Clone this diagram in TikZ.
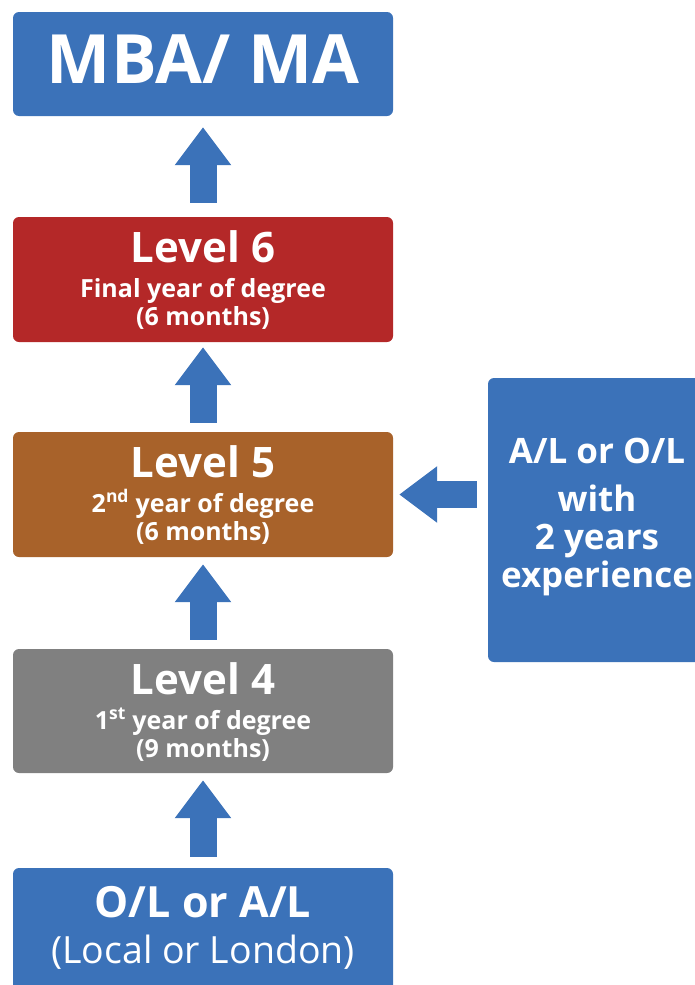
\documentclass[tikz,border=0pt]{standalone}
\usepackage{fontspec}
\setmainfont{Open Sans}
\usetikzlibrary{arrows.meta}
\definecolor{cblue}{RGB}{59,114,185}
\definecolor{cred}{RGB}{180,40,40}
\definecolor{cbrown}{RGB}{168,98,42}
\definecolor{cgray}{RGB}{128,128,128}
\tikzset{
  box/.style={rounded corners=6pt, inner sep=0pt, draw=none, text=white},
  txt/.style={anchor=base, inner sep=0pt, text=white},
  big/.style={font=\bfseries\fontsize{42}{46}\selectfont},
  small/.style={font=\bfseries\fontsize{25}{28}\selectfont},
  sidetxt/.style={font=\bfseries\fontsize{35}{40}\selectfont},
  uparrow/.style={draw=cblue, line width=27pt, -{Triangle[length=38pt,width=54pt]}},
}
\begin{document}
\begin{tikzpicture}[x=1pt,y=-1pt]
\useasboundingbox (0,0) rectangle (695,985);
\clip (0,0) rectangle (695,985);
% boxes
\node[box, fill=cblue, minimum width=380pt, minimum height=104pt] (mba) at (203,64) {};
\node[box, fill=cred, minimum width=380pt, minimum height=125pt] (l6) at (203,279.5) {};
\node[box, fill=cbrown, minimum width=380pt, minimum height=125pt] (l5) at (203,494.5) {};
\node[box, fill=cgray, minimum width=380pt, minimum height=124pt] (l4) at (203,711) {};
\node[box, fill=cblue, minimum width=380pt, minimum height=140pt] (ol) at (203,938) {};
\node[box, fill=cblue, minimum width=232pt, minimum height=284pt] (side) at (604,520) {};
% texts
\node[txt, font=\bfseries\fontsize{68}{74}\selectfont] (tmba) at (203,83) {MBA/ MA};
\node[txt, big] (t6a) at (203,262) {Level 6};
\node[txt, small] (t6b) at (203,297) {Final year of degree};
\node[txt, small] (t6c) at (203,325) {(6 months)};
\node[txt, big] (t5a) at (203,477) {Level 5};
\node[txt, small] (t5b) at (203,512) {2\textsuperscript{nd} year of degree};
\node[txt, small] (t5c) at (203,540) {(6 months)};
\node[txt, big] (t4a) at (203,694) {Level 4};
\node[txt, small] (t4b) at (203,729) {1\textsuperscript{st} year of degree};
\node[txt, small] (t4c) at (203,757) {(9 months)};
\node[txt, font=\bfseries\fontsize{43}{48}\selectfont] (tola) at (203,917) {O/L or A/L};
\node[txt, font=\fontsize{37.5}{42}\selectfont] (tolb) at (203,963) {(Local or London)};
\node[txt, sidetxt] (ts1) at (597,463) {A/L or O/L};
\node[txt, sidetxt] (ts2) at (597,511) {with};
\node[txt, sidetxt] (ts3) at (597,549) {2 years};
\node[txt, sidetxt] (ts4) at (597,587) {experience};
% arrows
\draw[uparrow, shorten <=14pt, shorten >=11pt] (l6.north) -- (mba.south);
\draw[uparrow, shorten <=9pt, shorten >=5pt] (l5.north) -- (l6.south);
\draw[uparrow, shorten <=9pt, shorten >=7pt] (l4.north) -- (l5.south);
\draw[uparrow, shorten <=11pt, shorten >=7pt] (ol.north) -- (l4.south);
\draw[uparrow, shorten <=11pt, shorten >=6pt] (side.west |- l5.east) -- (l5.east);
\end{tikzpicture}
\end{document}
